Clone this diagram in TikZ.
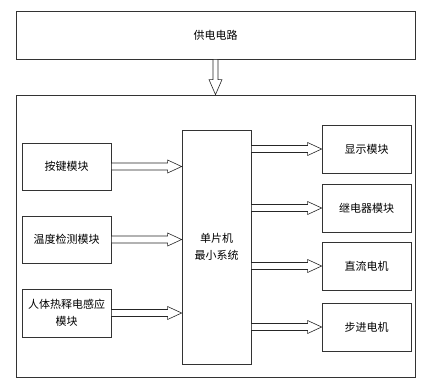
\documentclass[tikz,border=0pt]{standalone}
\usepackage{fontspec}
\setmainfont{Noto Sans CJK SC}
\usetikzlibrary{calc}
\tikzset{
  blk/.style={draw=black!80, line width=0.8pt, align=center, font=\fontsize{11pt}{17pt}\selectfont, inner sep=0pt},
  fat/.style={draw=black!85, line width=0.6pt, fill=white, line join=miter},
}
\newcommand{\harrow}[2]{%
  \draw[fat] let \p1=(#1), \p2=(#2) in
    (\x1,\y1+3.5pt) -- (\x2-14pt,\y1+3.5pt) -- (\x2-14pt,\y1+6.5pt) -- (\x2,\y1)
    -- (\x2-14pt,\y1-6.5pt) -- (\x2-14pt,\y1-3.5pt) -- (\x1,\y1-3.5pt) -- cycle;}
\newcommand{\varrow}[2]{%
  \draw[fat] let \p1=(#1), \p2=(#2) in
    (\x1-2.5pt,\y1) -- (\x1-2.5pt,\y2+15pt) -- (\x1-6.5pt,\y2+15pt) -- (\x1,\y2)
    -- (\x1+6.5pt,\y2+15pt) -- (\x1+2.5pt,\y2+15pt) -- (\x1+2.5pt,\y1) -- cycle;}
\begin{document}
\begin{tikzpicture}[x=1pt,y=-1pt]
\useasboundingbox (0,0) rectangle (433,389);
\node[blk, minimum width=399pt, minimum height=48pt] (pwr) at (215.5,35) {供电电路};
\node[blk, minimum width=399pt, minimum height=282pt] (sys) at (215.5,236) {};
\node[blk, minimum width=69pt, minimum height=234pt] (mcu) at (216.5,247) {单片机\\最小系统};
\node[blk, minimum width=89pt, minimum height=47pt] (key) at (66.5,166.5) {按键模块};
\node[blk, minimum width=89pt, minimum height=47pt] (tmp) at (66.5,239.5) {温度检测模块};
\node[blk, minimum width=89pt, minimum height=48pt] (pir) at (66.5,313) {人体热释电感应\\模块};
\node[blk, minimum width=89pt, minimum height=48pt] (dsp) at (366.5,149) {显示模块};
\node[blk, minimum width=89pt, minimum height=48pt] (rly) at (366.5,208) {继电器模块};
\node[blk, minimum width=89pt, minimum height=48pt] (dcm) at (366.5,266) {直流电机};
\node[blk, minimum width=89pt, minimum height=48pt] (stp) at (366.5,327) {步进电机};
\varrow{pwr.south}{sys.north}
\harrow{key.east}{mcu.west |- key.east}
\harrow{tmp.east}{mcu.west |- tmp.east}
\harrow{pir.east}{mcu.west |- pir.east}
\harrow{mcu.east |- dsp.west}{dsp.west}
\harrow{mcu.east |- rly.west}{rly.west}
\harrow{mcu.east |- dcm.west}{dcm.west}
\harrow{mcu.east |- stp.west}{stp.west}
\end{tikzpicture}
\end{document}
